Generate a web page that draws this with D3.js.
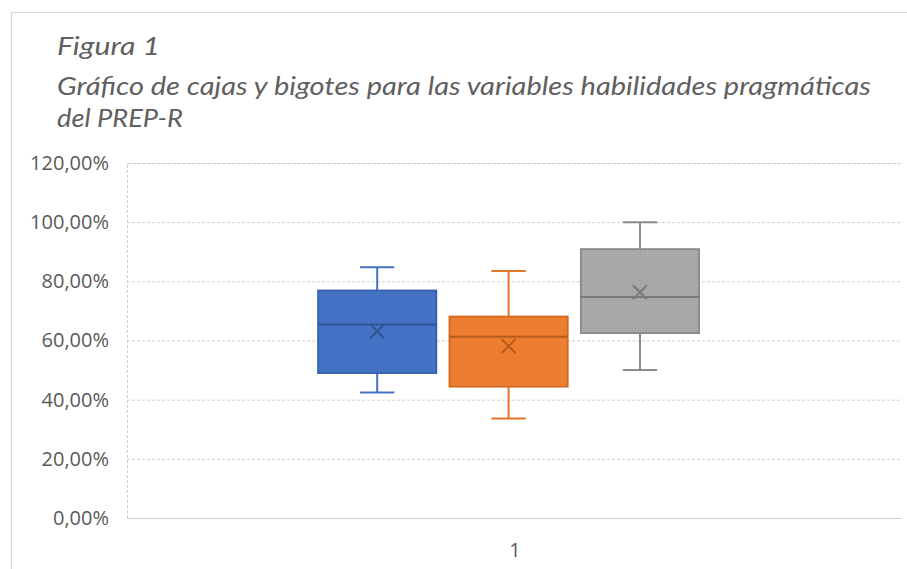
<!DOCTYPE html>
<html>
<head>
<meta charset="utf-8">
<script src="https://cdn.jsdelivr.net/npm/d3@7/dist/d3.min.js"></script>
<style>
  html, body { margin: 0; padding: 0; background: #ffffff; }
  svg { display: block; }
</style>
</head>
<body>
<svg id="chart" width="907" height="569"></svg>
<script>
// ---- Data ----
const titleLines = [
  "Figura 1",
  "Gráfico de cajas y bigotes para las variables habilidades pragmáticas",
  "del PREP-R"
];
const categories = ["1"];
const seriesNames = ["Serie 1", "Serie 2", "Serie 3"];
const minValues    = [0.424, 0.336, 0.500];
const q1Values     = [0.490, 0.444, 0.625];
const medianValues = [0.654, 0.613, 0.747];
const q3Values     = [0.769, 0.681, 0.909];
const maxValues    = [0.848, 0.835, 1.000];
const meanValues   = [0.631, 0.581, 0.763];
const yTickValues  = [0, 0.2, 0.4, 0.6, 0.8, 1.0, 1.2];

// ---- Styles ----
const fills   = ["#4472C4", "#ED7D31", "url(#greyPattern)"];
const strokes = ["#3560AE", "#D2691F", "#8A8A8A"];
const darks   = ["#2F5597", "#B85A1A", "#7A7A7A"];
const whisk   = ["#4472C4", "#E0752C", "#8C8C8C"];

const W = 907, H = 569;
const margin = { left: 127, right: 5, top: 163, bottom: 51 };
const svg = d3.select("#chart");

// pattern for third box
const defs = svg.append("defs");
const pat = defs.append("pattern").attr("id", "greyPattern")
  .attr("patternUnits", "userSpaceOnUse").attr("width", 4).attr("height", 4);
pat.append("rect").attr("width", 4).attr("height", 4).attr("fill", "#A8A8A8");
pat.append("rect").attr("x", 0).attr("y", 0).attr("width", 1).attr("height", 1).attr("fill", "#989898");
pat.append("rect").attr("x", 2).attr("y", 2).attr("width", 1).attr("height", 1).attr("fill", "#989898");
pat.append("rect").attr("x", 1).attr("y", 3).attr("width", 1).attr("height", 1).attr("fill", "#B4B4B4");
pat.append("rect").attr("x", 3).attr("y", 1).attr("width", 1).attr("height", 1).attr("fill", "#B4B4B4");

// frame
svg.append("path")
  .attr("d", `M11.5,${H} L11.5,12.5 L${W},12.5`)
  .attr("fill", "none").attr("stroke", "#D9D9D9").attr("stroke-width", 1.2);

// title
const titleFont = "Lato, 'Open Sans', sans-serif";
const titleY = [55, 95, 127];
const titleLen = [103, 814, 126];
svg.append("g").selectAll("text").data(titleLines).join("text")
  .attr("x", 57).attr("y", (d, i) => titleY[i])
  .attr("font-family", titleFont).attr("font-style", "italic")
  .attr("font-size", 25).attr("fill", "#606060")
  .attr("textLength", (d, i) => titleLen[i])
  .attr("lengthAdjust", "spacingAndGlyphs")
  .text(d => d);

// scales
const y = d3.scaleLinear().domain([0, 1.2]).range([H - margin.bottom, margin.top]);
const xLabel = d3.scalePoint().domain(categories)
  .range([margin.left, W - margin.right]).padding(0.5);
const x0 = d3.scaleBand().domain(categories)
  .range([margin.left, W - margin.right]).paddingInner(0).paddingOuter(0.517).align(0.485);
const x1 = d3.scaleBand().domain(seriesNames)
  .range([0, x0.bandwidth()]).paddingInner(0.1);

const locale = d3.formatLocale({ decimal: ",", thousands: ".", grouping: [3], currency: ["", "€"] });
const fmt = locale.format(".2%");

// gridlines
const yAxis = d3.axisLeft(y).tickValues(yTickValues).tickFormat(fmt)
  .tickSize(-(W - margin.right - margin.left)).tickPadding(18);
const gy = svg.append("g").attr("transform", `translate(${margin.left},0)`).call(yAxis);
gy.select(".domain").attr("stroke", "#CFCFCF").attr("stroke-dasharray", "3,2");
gy.selectAll(".tick line").attr("stroke", "#CFCFCF").attr("stroke-dasharray", "3,2");
gy.selectAll(".tick text")
  .attr("font-family", "'Open Sans', 'Noto Sans', sans-serif")
  .attr("font-size", 20).attr("fill", "#595959");

// x axis labels
const xAxis = d3.axisBottom(xLabel).tickSize(0).tickPadding(25);
const gx = svg.append("g").attr("transform", `translate(0,${y(0)})`).call(xAxis);
gx.select(".domain").remove();
gx.selectAll(".tick text")
  .attr("font-family", "'Open Sans', 'Noto Sans', sans-serif")
  .attr("font-size", 20).attr("fill", "#595959");

// boxes
const data = seriesNames.map((s, i) => ({
  s, i, min: minValues[i], q1: q1Values[i], med: medianValues[i],
  q3: q3Values[i], max: maxValues[i], mean: meanValues[i]
}));

const gBox = svg.append("g");
categories.forEach(cat => {
  const g = gBox.append("g").attr("transform", `translate(${x0(cat)},0)`);
  const b = g.selectAll("g.box").data(data).join("g").attr("class", "box");
  const bw = x1.bandwidth();
  const cx = d => x1(d.s) + bw / 2;
  const capW = bw * 0.29;

  // whiskers
  b.append("line").attr("x1", cx).attr("x2", cx)
    .attr("y1", d => y(d.max)).attr("y2", d => y(d.q3))
    .attr("stroke", d => whisk[d.i]).attr("stroke-width", 2);
  b.append("line").attr("x1", cx).attr("x2", cx)
    .attr("y1", d => y(d.q1)).attr("y2", d => y(d.min))
    .attr("stroke", d => whisk[d.i]).attr("stroke-width", 2);
  b.append("line").attr("x1", d => cx(d) - capW / 2).attr("x2", d => cx(d) + capW / 2)
    .attr("y1", d => y(d.max)).attr("y2", d => y(d.max))
    .attr("stroke", d => whisk[d.i]).attr("stroke-width", 2);
  b.append("line").attr("x1", d => cx(d) - capW / 2).attr("x2", d => cx(d) + capW / 2)
    .attr("y1", d => y(d.min)).attr("y2", d => y(d.min))
    .attr("stroke", d => whisk[d.i]).attr("stroke-width", 2);

  // box
  b.append("rect")
    .attr("x", d => x1(d.s)).attr("width", bw)
    .attr("y", d => y(d.q3)).attr("height", d => y(d.q1) - y(d.q3))
    .attr("fill", d => fills[d.i]).attr("stroke", d => strokes[d.i]).attr("stroke-width", 1.8);

  // median
  b.append("line").attr("x1", d => x1(d.s)).attr("x2", d => x1(d.s) + bw)
    .attr("y1", d => y(d.med)).attr("y2", d => y(d.med))
    .attr("stroke", d => darks[d.i]).attr("stroke-width", 2);

  // mean X
  const r = 7;
  b.append("path")
    .attr("d", d => {
      const px = cx(d), py = y(d.mean);
      return `M${px - r},${py - r}L${px + r},${py + r}M${px - r},${py + r}L${px + r},${py - r}`;
    })
    .attr("stroke", d => darks[d.i]).attr("stroke-width", 2).attr("fill", "none");
});
</script>
</body>
</html>
